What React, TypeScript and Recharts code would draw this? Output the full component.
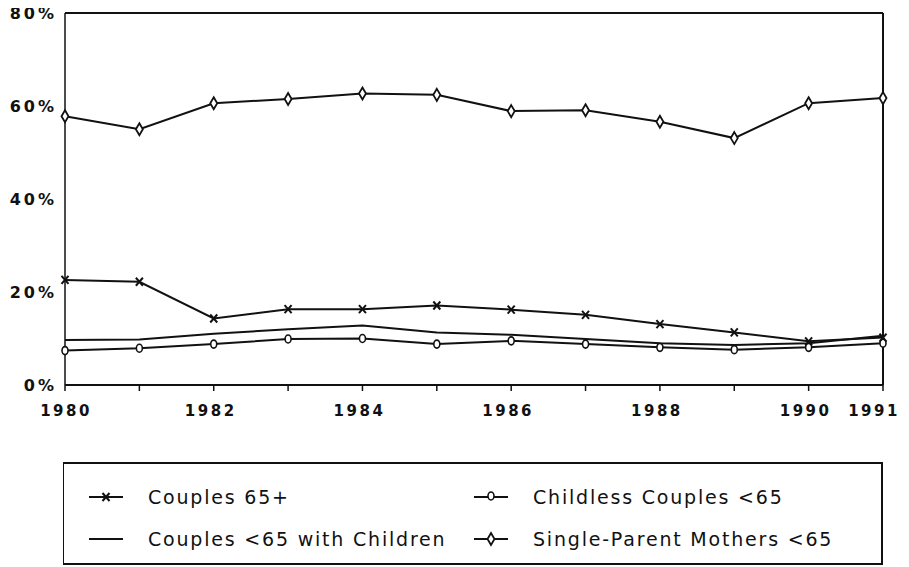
import { LineChart, Line, XAxis, YAxis, ReferenceLine } from 'recharts'

// values (percent)
const years = [1980, 1981, 1982, 1983, 1984, 1985, 1986, 1987, 1988, 1989, 1990, 1991]
const couples65 = [22.6, 22.2, 14.3, 16.3, 16.3, 17.1, 16.2, 15.1, 13.1, 11.3, 9.4, 10.2]
const childless = [7.4, 7.9, 8.8, 9.9, 10.0, 8.8, 9.5, 8.8, 8.1, 7.6, 8.1, 9.0]
const withChildren = [9.7, 9.8, 11.0, 12.0, 12.8, 11.3, 10.8, 9.9, 9.0, 8.6, 9.0, 10.6]
const singleMothers = [57.8, 55.0, 60.6, 61.5, 62.7, 62.4, 58.9, 59.1, 56.6, 53.1, 60.6, 61.7]

const xTicks = [1980, 1982, 1984, 1986, 1988, 1990, 1991]
const yTicks = [0, 20, 40, 60, 80]
const names = ['Couples 65+', 'Childless Couples <65', 'Couples <65 with Children', 'Single-Parent Mothers <65']

const data = years.map((y, i) => ({
  year: y,
  c65: couples65[i],
  childless: childless[i],
  children: withChildren[i],
  single: singleMothers[i],
}))

const INK = '#111'
const FONT = '"DejaVu Sans", sans-serif'

const StarDot = ({ cx, cy }: any) => (
  <g stroke={INK} strokeWidth={2}>
    <line x1={cx - 3.5} y1={cy - 4} x2={cx + 3.5} y2={cy + 4} />
    <line x1={cx - 3.5} y1={cy + 4} x2={cx + 3.5} y2={cy - 4} />
  </g>
)

const RingDot = ({ cx, cy }: any) => (
  <ellipse cx={cx} cy={cy} rx={3} ry={4} fill="#fff" stroke={INK} strokeWidth={1.6} />
)

const DiamondDot = ({ cx, cy }: any) => (
  <path d={`M${cx},${cy - 6} L${cx + 3.5},${cy} L${cx},${cy + 6} L${cx - 3.5},${cy} Z`}
    fill="#fff" stroke={INK} strokeWidth={1.8} />
)

const XTick = ({ x, y, payload }: any) => {
  const v = payload.value
  const dx = v === 1980 ? 1 : v === 1991 ? -9 : -3
  return (
    <text x={x + dx} y={y} dy="0.71em" textAnchor="middle" fill={INK}
      style={{ fontFamily: FONT, fontSize: 15, fontWeight: 700, letterSpacing: 2.5 }}>
      {v}
    </text>
  )
}

const YTick = ({ x, y, payload }: any) => (
  <text x={x} y={y} dy="0.355em" textAnchor="end" fill={INK}
    style={{ fontFamily: FONT, fontSize: 16, fontWeight: 700, letterSpacing: 3 }}>
    {payload.value}%
  </text>
)

const Sym = ({ kind }: { kind: number }) => (
  <svg width={36} height={16} style={{ display: 'block' }}>
    <line x1={1} y1={8} x2={35} y2={8} stroke={INK} strokeWidth={2} />
    {kind === 0 && <StarDot cx={18} cy={8} />}
    {kind === 1 && <RingDot cx={18} cy={7} />}
    {kind === 3 && <DiamondDot cx={18} cy={8} />}
  </svg>
)

const LegendItem = ({ kind, left, top }: { kind: number; left: number; top: number }) => (
  <div style={{ position: 'absolute', left, top, height: 24, display: 'flex', alignItems: 'center', whiteSpace: 'nowrap' }}>
    <Sym kind={kind} />
    <span style={{ marginLeft: 24, fontFamily: FONT, fontSize: 19, letterSpacing: 1.8, color: INK, lineHeight: '24px' }}>
      {names[kind]}
    </span>
  </div>
)

export default function App() {
  return (
    <div style={{ position: 'relative', width: 909, height: 567, margin: '-8px 0 0 -8px', background: '#fff' }}>
      <LineChart width={909} height={440} data={data} margin={{ top: 13, right: 26, left: 10, bottom: 15 }}>
        <XAxis
          dataKey="year"
          type="number"
          domain={[1980, 1991]}
          ticks={years}
          interval={0}
          tick={(p: any) => (xTicks.includes(p.payload.value) ? <XTick {...p} /> : <g />)}
          tickSize={6}
          tickMargin={14}
          height={40}
          axisLine={{ stroke: INK, strokeWidth: 2 }}
          tickLine={{ stroke: INK, strokeWidth: 1.5 }}
        />
        <YAxis
          domain={[0, 80]}
          ticks={yTicks}
          width={55}
          tick={<YTick />}
          tickSize={0}
          tickMargin={8}
          axisLine={{ stroke: INK, strokeWidth: 1.5 }}
          tickLine={false}
        />
        <ReferenceLine y={80} stroke={INK} strokeWidth={2} />
        <ReferenceLine x={1991} stroke={INK} strokeWidth={2} />
        <Line dataKey="children" stroke={INK} strokeWidth={2} dot={false} isAnimationActive={false} />
        <Line dataKey="childless" stroke={INK} strokeWidth={2} dot={<RingDot />} isAnimationActive={false} />
        <Line dataKey="c65" stroke={INK} strokeWidth={2} dot={<StarDot />} isAnimationActive={false} />
        <Line dataKey="single" stroke={INK} strokeWidth={2} dot={<DiamondDot />} isAnimationActive={false} />
      </LineChart>
      <div style={{
        position: 'absolute', left: 63, top: 462, width: 820, height: 103,
        borderTop: `2px solid ${INK}`, borderBottom: `2px solid ${INK}`,
        borderLeft: `1px solid ${INK}`, borderRight: `2px solid ${INK}`, boxSizing: 'border-box',
      }}>
        <LegendItem kind={0} left={24} top={21} />
        <LegendItem kind={1} left={409} top={21} />
        <LegendItem kind={2} left={24} top={63} />
        <LegendItem kind={3} left={409} top={63} />
      </div>
    </div>
  )
}
